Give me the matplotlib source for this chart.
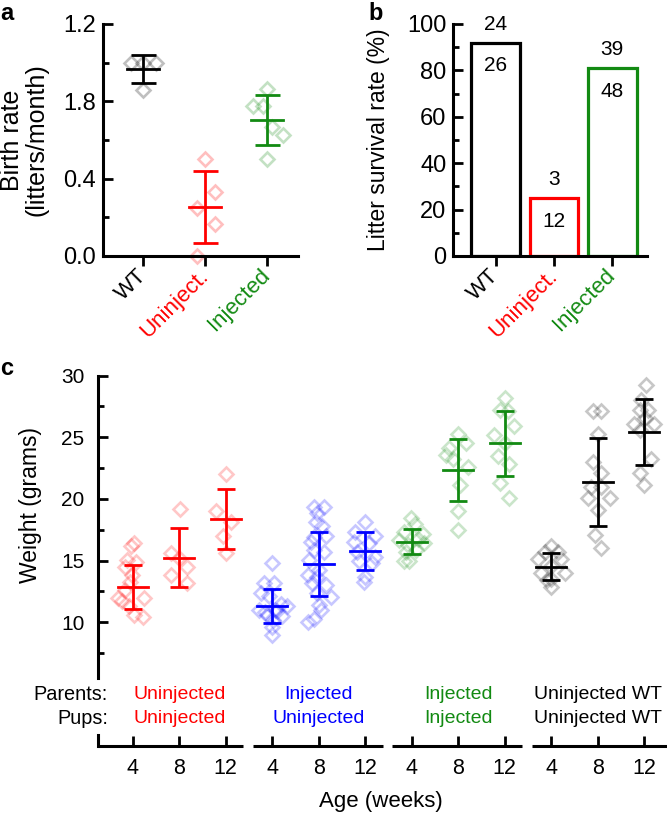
import matplotlib.pyplot as plt
import numpy as np

plt.rcParams['font.family'] = ['Liberation Sans', 'DejaVu Sans']

W, H = 667, 815

RED = '#ff0000'
BLUE = '#0000ff'
GREEN = '#128a12'
BLACK = '#000000'

# ---- panel a: birth rate ----
a_groups = ['WT', 'Uninject.', 'Injected']
a_colors = [BLACK, RED, GREEN]
a_points = [
    [1.0, 1.0, 1.0, 0.86],
    [0.5, 0.333, 0.25, 0.167, 0.0],
    [0.862, 0.776, 0.776, 0.669, 0.626, 0.5],
]
a_dx = [
    [-0.2, 0.0, 0.2, 0.0],
    [0.0, 0.16, -0.13, 0.16, -0.13],
    [0.0, -0.22, -0.05, 0.08, 0.27, 0.0],
]
a_mean = [0.966, 0.252, 0.703]
a_sd = [0.072, 0.187, 0.128]
a_ticks = [0.0, 0.4, 0.8, 1.2]
a_ticklabels = ['0.0', '0.4', '1.8', '1.2']

# ---- panel b: litter survival ----
b_rate = [92, 25, 81]
b_top = ['24', '3', '39']
b_inside = ['26', '12', '48']

# ---- panel c: weights ----
c_weeks = ['4', '8', '12'] * 4
c_colors = [RED] * 3 + [BLUE] * 3 + [GREEN] * 3 + [BLACK] * 3
c_parents = ['Uninjected', 'Injected', 'Injected', 'Uninjected WT']
c_pups = ['Uninjected', 'Uninjected', 'Injected', 'Uninjected WT']
c_group_colors = [RED, BLUE, GREEN, BLACK]
c_points = [
    [16.4, 16.2, 15.05, 14.9, 14.46, 13.8, 13.25, 12.6, 12.0, 11.95, 11.7, 11.3, 10.6, 10.45],
    [19.2, 15.6, 15.2, 14.5, 13.8, 13.2],
    [22.0, 19.0, 18.1, 17.0, 15.6],
    [14.8, 13.2, 13.2, 12.4, 12.1, 11.5, 11.3, 11.0, 11.0, 10.9, 10.8, 10.6, 10.5, 10.2, 9.6, 9.0],
    [19.38, 19.38, 18.9, 18.16, 17.8, 16.95, 16.97, 16.5, 15.86, 15.7, 15.05, 14.2, 13.8, 13.7,
     13.16, 13.0, 12.35, 12.08, 11.4, 11.0, 10.24, 10.0],
    [18.1, 17.3, 17.0, 16.5, 16.4, 15.7, 15.3, 15.0, 14.8, 13.7, 13.3],
    [18.43, 18.0, 17.35, 17.16, 16.67, 16.73, 16.27, 16.4, 15.73, 15.86, 15.0, 14.95],
    [25.3, 24.5, 24.1, 23.6, 23.2, 22.6, 21.1, 19.0, 17.5],
    [28.2, 27.2, 27.1, 25.9, 25.2, 24.5, 23.5, 22.8, 21.3, 20.1],
    [16.2, 15.7, 15.7, 15.1, 15.1, 14.6, 14.0, 14.0, 13.5, 13.4, 12.9],
    [27.1, 27.1, 25.3, 23.0, 22.1, 21.0, 21.0, 20.1, 20.1, 19.1, 17.1, 16.0],
    [29.2, 28.0, 27.2, 27.2, 26.6, 26.1, 26.1, 25.6, 23.2, 22.1, 21.1],
]
c_dx = [
    [0.03, -0.04, -0.13, 0.07, -0.17, -0.02, -0.06, -0.17, -0.31, 0.24, -0.24, -0.09, 0.03, 0.23],
    [0.01, -0.17, 0.0, 0.16, -0.17, 0.16],
    [0.01, -0.2, 0.12, -0.06, 0.01],
    [0.0, -0.18, 0.04, -0.25, -0.07, 0.18, 0.32, -0.29, 0.05, 0.11, -0.15, -0.11, 0.2, 0.02, 0.0, 0.0],
    [-0.1, 0.12, -0.03, -0.06, 0.08, -0.1, 0.15, -0.17, -0.1, 0.12, -0.21, 0.0, -0.24, -0.03,
     -0.14, 0.15, -0.03, 0.26, 0.0, 0.04, -0.1, -0.24],
    [0.0, -0.21, 0.22, -0.24, 0.08, -0.17, 0.2, -0.14, 0.15, 0.0, -0.03],
    [-0.01, 0.06, -0.16, 0.24, -0.27, 0.13, -0.09, 0.27, -0.12, 0.09, -0.05, -0.17],
    [0.0, 0.17, -0.19, -0.26, -0.12, 0.21, 0.03, 0.0, 0.0],
    [0.0, -0.11, 0.06, 0.21, -0.22, 0.0, -0.15, 0.1, -0.11, 0.1],
    [0.0, -0.14, 0.15, -0.28, 0.22, 0.0, -0.21, 0.29, 0.0, -0.1, 0.0],
    [-0.1, 0.08, 0.0, -0.1, 0.08, -0.14, 0.08, -0.21, 0.26, 0.0, -0.06, 0.08],
    [0.04, -0.06, -0.1, 0.08, 0.02, -0.21, 0.22, -0.1, 0.15, -0.1, 0.0],
]
c_mean = [12.86, 15.24, 18.38, 11.32, 14.73, 15.78, 16.54, 22.36, 24.52, 14.51, 21.40, 25.46]
c_sd = [1.81, 2.40, 2.44, 1.37, 2.60, 1.53, 1.00, 2.50, 2.63, 1.11, 3.58, 2.67]

LW = 2.2
ELW = 2.0


def box(l, t, r, b):
    return [l / W, 1 - b / H, (r - l) / W, (b - t) / H]


def clean(ax):
    ax.spines['top'].set_visible(False)
    ax.spines['right'].set_visible(False)
    ax.spines['left'].set_linewidth(LW)
    ax.spines['bottom'].set_linewidth(LW)


fig = plt.figure(figsize=(W / 100, H / 100), dpi=100)

# panel a
ax = fig.add_axes(box(103.3, 24, 298, 256))
clean(ax)
for i in range(3):
    ax.plot(i + np.array(a_dx[i]), a_points[i], 'D', ms=7, mfc='none', mec=a_colors[i],
            mew=1.9, alpha=0.25, clip_on=False)
    ax.errorbar(i, a_mean[i], yerr=a_sd[i], fmt='none', ecolor=a_colors[i],
                elinewidth=ELW, capsize=9, capthick=ELW)
    ax.plot([i - 0.26, i + 0.26], [a_mean[i]] * 2, color=a_colors[i], lw=ELW)
ax.set_xlim(-0.65, 2.51)
ax.set_ylim(0, 1.2)
ax.set_yticks(a_ticks)
ax.set_yticklabels(a_ticklabels)
ax.set_yticks([0.2, 0.6, 1.0], minor=True)
ax.tick_params(axis='y', which='major', direction='in', length=7, width=2, labelsize=17, pad=5)
ax.tick_params(axis='y', which='minor', direction='in', length=4, width=2)
ax.set_xticks(range(3))
ax.set_xticklabels(a_groups, rotation=45, ha='right', va='center', rotation_mode='anchor')
ax.tick_params(axis='x', direction='out', length=7, width=2, labelsize=16, pad=5)
for lab, c in zip(ax.get_xticklabels(), a_colors):
    lab.set_color(c)
fig.text(24 / W, 1 - 140 / H, 'Birth rate\n(litters/month)', rotation=90, ha='center',
         va='center', ma='center', fontsize=18, linespacing=1.05)

# panel b
ax = fig.add_axes(box(453.3, 24, 646.7, 256))
clean(ax)
for i in range(3):
    ax.bar(i, b_rate[i], width=0.84, facecolor='white', edgecolor=a_colors[i], linewidth=2.3)
    ax.text(i, b_rate[i] + 8, b_top[i], ha='center', va='center', fontsize=15)
    ax.text(i, b_rate[i] - 10, b_inside[i], ha='center', va='center', fontsize=15)
ax.set_xlim(-0.727, 2.59)
ax.set_ylim(0, 100)
ax.set_yticks(range(0, 101, 20))
ax.set_yticks(range(10, 100, 20), minor=True)
ax.tick_params(axis='y', which='major', direction='in', length=7, width=2, labelsize=17, pad=5)
ax.tick_params(axis='y', which='minor', direction='in', length=4, width=2)
ax.set_xticks(range(3))
ax.set_xticklabels(a_groups, rotation=45, ha='right', va='center', rotation_mode='anchor')
ax.tick_params(axis='x', direction='out', length=7, width=2, labelsize=16, pad=5)
for lab, c in zip(ax.get_xticklabels(), a_colors):
    lab.set_color(c)
fig.text(379 / W, 1 - 140 / H, 'Litter survival rate (%)', rotation=90, ha='center',
         va='center', fontsize=16.5)

# panel c
ax = fig.add_axes(box(98.3, 375.6, 667, 745.6))
ax.spines['top'].set_visible(False)
ax.spines['right'].set_visible(False)
ax.spines['bottom'].set_visible(False)
ax.spines['left'].set_linewidth(LW)
ax.spines['left'].set_bounds(5.5, 30)
x0, x1 = -0.74, 11.49
ax.set_xlim(x0, x1)
ax.set_ylim(0, 30)
for i in range(12):
    ax.plot(i + np.array(c_dx[i]), c_points[i], 'D', ms=7, mfc='none', mec=c_colors[i],
            mew=1.9, alpha=0.22)
    ax.errorbar(i, c_mean[i], yerr=c_sd[i], fmt='none', ecolor=c_colors[i],
                elinewidth=ELW, capsize=6.5, capthick=ELW)
    ax.plot([i - 0.32, i + 0.32], [c_mean[i]] * 2, color=c_colors[i], lw=ELW)

# broken x axis, one piece per group
for g in range(4):
    left = x0 if g == 0 else 3 * g - 0.42
    right = x1 if g == 3 else 3 * g + 2.38
    ax.plot([left, right], [0, 0], color='k', lw=LW, clip_on=False, solid_capstyle='butt')
ax.plot([x0, x0], [0, 0.86], color='k', lw=LW, clip_on=False, solid_capstyle='projecting')

ax.set_yticks([10, 15, 20, 25, 30])
ax.set_yticks([7.5, 12.5, 17.5, 22.5, 27.5], minor=True)
ax.tick_params(axis='y', which='major', direction='in', length=7, width=2, labelsize=15, pad=10)
ax.tick_params(axis='y', which='minor', direction='in', length=4, width=2)
ax.set_xticks(range(12))
ax.set_xticklabels(c_weeks)
ax.tick_params(axis='x', direction='in', length=7, width=2, labelsize=15.5, pad=9)

ax.text(-0.53, 4.18, 'Parents:', ha='right', va='center', fontsize=14.3, clip_on=False)
ax.text(-0.53, 2.21, 'Pups:', ha='right', va='center', fontsize=14.3, clip_on=False)
for g in range(4):
    ax.text(3 * g + 1, 4.18, c_parents[g], ha='center', va='center', fontsize=14,
            color=c_group_colors[g])
    ax.text(3 * g + 1, 2.21, c_pups[g], ha='center', va='center', fontsize=14,
            color=c_group_colors[g])

fig.text(31 / W, 1 - 505 / H, 'Weight (grams)', rotation=90, ha='center', va='center', fontsize=16.5)
fig.text(381 / W, 1 - 802 / H, 'Age (weeks)', ha='center', va='center', fontsize=16)

# panel letters
fig.text(0.0, 1 - 20 / H, 'a', fontsize=17, fontweight='bold', va='baseline')
fig.text(368 / W, 1 - 20 / H, 'b', fontsize=17, fontweight='bold', va='baseline')
fig.text(0.0, 1 - 375 / H, 'c', fontsize=17, fontweight='bold', va='baseline')

fig.savefig('out.png', dpi=100)
